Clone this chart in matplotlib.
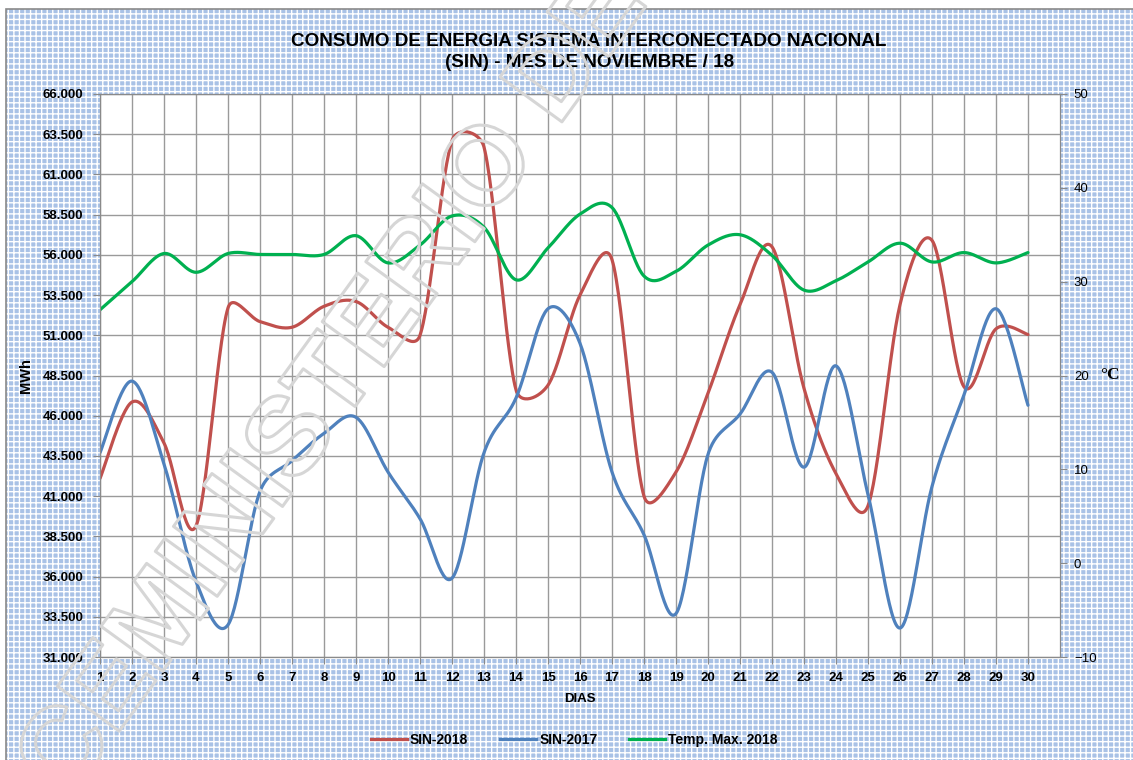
import numpy as np
import matplotlib
matplotlib.use("Agg")
import matplotlib.pyplot as plt
import matplotlib.patheffects as pe
from matplotlib.patches import Rectangle
from matplotlib.lines import Line2D
from matplotlib.ticker import FuncFormatter

# datos
days = list(range(1, 31))
sin_2018 = [42100, 46850, 44300, 39150, 52700, 51850, 51500, 52800, 53100, 51500,
            51000, 63100, 62700, 47600, 47900, 53500, 55700, 41000, 42500, 47400,
            52900, 56500, 47700, 42400, 40400, 52900, 56900, 47800, 51400, 51050]
sin_2017 = [43700, 48150, 43000, 35700, 33000, 41300, 43200, 44900, 45900, 42500,
            39600, 35900, 43700, 47100, 52650, 50500, 42500, 38600, 33700, 43600,
            46100, 48700, 42800, 49100, 41100, 32800, 41600, 47300, 52650, 46650]
temp_2018 = [27.0, 30.0, 33.0, 31.0, 33.0, 32.9, 32.9, 32.9, 34.9, 32.0,
             33.9, 37.0, 35.8, 30.2, 33.6, 37.2, 37.9, 30.6, 31.1, 33.9,
             35.0, 32.8, 29.1, 30.1, 32.1, 34.1, 32.1, 33.1, 32.0, 33.1]
mwh_ticks = list(range(31000, 66001, 2500))
temp_ticks = list(range(-10, 51, 10))
labels = ['SIN-2018', 'SIN-2017', 'Temp. Max. 2018']
colors = ['#c0504d', '#4f81bd', '#00b050']

title = 'CONSUMO DE ENERGIA SISTEMA INTERCONECTADO NACIONAL\n(SIN) - MES DE NOVIEMBRE / 18'


def smooth(x, y, sx, sy, n=30):
    # linea suavizada como la de Excel: bezier con brazos de 1/6,
    # limitados a la mitad del tramo (medido en pixeles aprox.)
    x = np.asarray(x, float)
    y = np.asarray(y, float)
    P = np.column_stack([x * sx, y * sy])
    xs, ys = [], []
    m = len(P)
    for i in range(m - 1):
        p0 = P[max(i - 1, 0)]
        p1 = P[i]
        p2 = P[i + 1]
        p3 = P[min(i + 2, m - 1)]
        d12 = np.hypot(*(p2 - p1))
        d02 = np.hypot(*(p2 - p0))
        d13 = np.hypot(*(p3 - p1))
        f1 = 1 / 6 if d02 / 6 < d12 / 2 else d12 / 2 / d02
        f2 = 1 / 6 if d13 / 6 < d12 / 2 else d12 / 2 / d13
        c1 = p1 + (p2 - p0) * f1
        c2 = p2 - (p3 - p1) * f2
        t = np.linspace(0, 1, n, endpoint=(i == m - 2))[:, None]
        pts = ((1 - t) ** 3) * p1 + 3 * ((1 - t) ** 2) * t * c1 + 3 * (1 - t) * t ** 2 * c2 + t ** 3 * p2
        xs.append(pts[:, 0] / sx)
        ys.append(pts[:, 1] / sy)
    return np.concatenate(xs), np.concatenate(ys)


plt.rcParams['font.family'] = ['Liberation Sans', 'DejaVu Sans']

fig = plt.figure(figsize=(11.33, 7.6), dpi=100)
fig.patch.set_facecolor('white')

# fondo cuadriculado azul
plt.rcParams['hatch.linewidth'] = 1.0
bg = Rectangle((6 / 1133, -0.01), 1.01, 1 - 9 / 760 + 0.01, transform=fig.transFigure,
               facecolor='#a9c2e6', edgecolor='white', hatch='+++', lw=0, zorder=-10)
fig.add_artist(bg)
border = Rectangle((6 / 1133, -0.01), 1.01, 1 - 9 / 760 + 0.01, transform=fig.transFigure,
                   facecolor='none', edgecolor='#8a8a8a', lw=1.2, zorder=-9)
fig.add_artist(border)

ax = fig.add_axes([100 / 1133, 1 - 657 / 760, 960 / 1133, 563 / 760])
ax.set_facecolor('white')
ax2 = ax.twinx()

ax.set_xlim(1, 31)
ax.set_ylim(mwh_ticks[0], mwh_ticks[-1])
ax2.set_ylim(temp_ticks[0], temp_ticks[-1])

ax.set_xticks(days)
ax.set_yticks(mwh_ticks)
ax2.set_yticks(temp_ticks)
ax.yaxis.set_major_formatter(FuncFormatter(lambda v, p: f'{v:,.0f}'.replace(',', '.')))

ax.grid(True, color='#9a9a9a', lw=1.0)
ax.set_axisbelow(True)

for s in ax.spines.values():
    s.set_color('#8a8a8a')
for s in ax2.spines.values():
    s.set_color('#8a8a8a')

ax.tick_params(axis='both', direction='out', length=5, color='#8a8a8a', labelsize=9.5)
ax.tick_params(axis='y', pad=7)
ax.tick_params(axis='x', pad=6)
ax2.tick_params(axis='y', direction='out', length=5, color='#8a8a8a', labelsize=9.5, pad=5)
for lab in ax.get_xticklabels() + ax.get_yticklabels():
    lab.set_fontweight('bold')

# escala aproximada en pixeles para el suavizado
bbox = ax.get_position()
px_x = bbox.width * 1133 / (31 - 1)
px_y1 = bbox.height * 760 / (mwh_ticks[-1] - mwh_ticks[0])
px_y2 = bbox.height * 760 / (temp_ticks[-1] - temp_ticks[0])

x1, y1 = smooth(days, sin_2018, px_x, px_y1)
x2, y2 = smooth(days, sin_2017, px_x, px_y1)
x3, y3 = smooth(days, temp_2018, px_x, px_y2)
ax.plot(x1, y1, color=colors[0], lw=2.3, solid_capstyle='round')
ax.plot(x2, y2, color=colors[1], lw=2.3, solid_capstyle='round')
ax2.plot(x3, y3, color=colors[2], lw=2.3, solid_capstyle='round')

ax.set_xlabel('DIAS', fontsize=9.5, fontweight='bold', labelpad=6)
ax.set_ylabel('MWh', fontsize=10.5, fontweight='bold', labelpad=7)
fig.text(1110 / 1133, 1 - 375 / 760, '°C', fontsize=12.5, fontweight='bold',
         family=['Liberation Serif', 'DejaVu Serif'], ha='center', va='center')

fig.text(0.52, 1 - 52 / 760, title, ha='center', va='center', fontsize=13.6,
         fontweight='bold', linespacing=1.38)

handles = [Line2D([], [], color=c, lw=2.3) for c in colors]
fig.legend(handles, labels, loc='center', bbox_to_anchor=(0.507, 1 - 740 / 760), ncol=3,
           frameon=False, prop={'weight': 'bold', 'size': 10}, handlelength=2.6,
           handletextpad=0.2, columnspacing=2.3)

# marca de agua
fig.text(6 / 1133, -127 / 760, 'VICEMINISTERIO DE ELECTRICIDAD', rotation=54,
         rotation_mode='anchor', ha='left', va='baseline', fontsize=80,
         fontweight='bold', family=['Liberation Sans', 'DejaVu Sans'], color='none',
         zorder=20, path_effects=[pe.Stroke(linewidth=2.2, foreground='#d6d6d6')])

fig.savefig('out.png', dpi=100)
